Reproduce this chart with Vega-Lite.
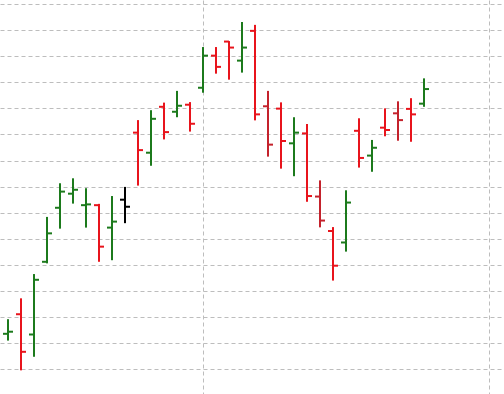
{
  "$schema": "https://vega.github.io/schema/vega-lite/v6.json",
  "width": 504,
  "height": 394,
  "padding": 0,
  "autosize": {"type": "fit", "contains": "padding"},
  "background": "white",
  "config": {"view": {"stroke": null}},
  "data": {
    "values": [
      {"i": 0, "o": 2.36, "h": 2.92, "l": 2.10, "c": 2.44, "d": "up"},
      {"i": 1, "o": 3.11, "h": 3.72, "l": 0.96, "c": 1.67, "d": "down"},
      {"i": 2, "o": 2.33, "h": 4.65, "l": 1.48, "c": 4.43, "d": "up"},
      {"i": 3, "o": 5.12, "h": 6.84, "l": 5.06, "c": 6.21, "d": "up"},
      {"i": 4, "o": 7.19, "h": 8.13, "l": 6.39, "c": 7.81, "d": "up"},
      {"i": 5, "o": 7.73, "h": 8.32, "l": 7.35, "c": 7.88, "d": "up"},
      {"i": 6, "o": 7.29, "h": 7.94, "l": 6.43, "c": 7.32, "d": "up"},
      {"i": 7, "o": 7.29, "h": 7.34, "l": 5.12, "c": 5.70, "d": "down"},
      {"i": 8, "o": 6.43, "h": 7.64, "l": 5.18, "c": 6.66, "d": "up"},
      {"i": 9, "o": 7.50, "h": 7.99, "l": 6.60, "c": 7.23, "d": "flat"},
      {"i": 10, "o": 10.07, "h": 10.55, "l": 8.04, "c": 9.40, "d": "down"},
      {"i": 11, "o": 9.30, "h": 10.93, "l": 8.80, "c": 10.60, "d": "up"},
      {"i": 12, "o": 11.06, "h": 11.22, "l": 9.81, "c": 10.09, "d": "down"},
      {"i": 13, "o": 10.87, "h": 11.67, "l": 10.66, "c": 11.10, "d": "up"},
      {"i": 14, "o": 11.14, "h": 11.24, "l": 10.11, "c": 10.41, "d": "down"},
      {"i": 15, "o": 11.79, "h": 13.35, "l": 11.60, "c": 13.02, "d": "up"},
      {"i": 16, "o": 13.02, "h": 13.35, "l": 12.33, "c": 12.59, "d": "down"},
      {"i": 17, "o": 13.56, "h": 13.58, "l": 12.10, "c": 13.33, "d": "down"},
      {"i": 18, "o": 12.83, "h": 14.31, "l": 12.37, "c": 13.33, "d": "up"},
      {"i": 19, "o": 13.97, "h": 14.20, "l": 10.54, "c": 10.77, "d": "down"},
      {"i": 20, "o": 11.08, "h": 11.67, "l": 9.15, "c": 9.61, "d": "down2"},
      {"i": 21, "o": 10.99, "h": 11.23, "l": 8.69, "c": 9.75, "d": "down"},
      {"i": 22, "o": 9.66, "h": 10.66, "l": 8.40, "c": 10.07, "d": "up"},
      {"i": 23, "o": 10.04, "h": 10.40, "l": 7.42, "c": 7.64, "d": "down"},
      {"i": 24, "o": 7.62, "h": 8.24, "l": 6.44, "c": 6.70, "d": "down2"},
      {"i": 25, "o": 6.30, "h": 6.45, "l": 4.40, "c": 4.97, "d": "down"},
      {"i": 26, "o": 5.86, "h": 7.86, "l": 5.51, "c": 7.39, "d": "up"},
      {"i": 27, "o": 10.14, "h": 10.62, "l": 8.73, "c": 9.10, "d": "down"},
      {"i": 28, "o": 9.19, "h": 9.79, "l": 8.57, "c": 9.49, "d": "up"},
      {"i": 29, "o": 10.26, "h": 11.00, "l": 9.93, "c": 10.17, "d": "down"},
      {"i": 30, "o": 10.81, "h": 11.27, "l": 9.76, "c": 10.55, "d": "down2"},
      {"i": 31, "o": 10.98, "h": 11.39, "l": 9.72, "c": 10.77, "d": "down"},
      {"i": 32, "o": 11.18, "h": 12.15, "l": 11.06, "c": 11.74, "d": "up"}
    ]
  },
  "encoding": {
    "x": {
      "field": "i",
      "type": "quantitative",
      "scale": {"domain": [-0.6154, 38.154], "nice": false, "zero": false},
      "axis": {
        "values": [15, 37],
        "tickCount": 40,
        "grid": true,
        "gridColor": "#bdbdbd",
        "gridDash": [4, 3],
        "gridWidth": 1,
        "labels": false,
        "ticks": false,
        "domain": false,
        "title": null
      }
    },
    "color": {
      "field": "d",
      "type": "nominal",
      "scale": {
        "domain": ["up", "down", "down2", "flat"],
        "range": ["#1c7a1c", "#e8141c", "#c4222c", "#000000"]
      },
      "legend": null
    }
  },
  "layer": [
    {
      "mark": {"type": "rule", "strokeWidth": 2, "opacity": 1},
      "encoding": {
        "y": {
          "field": "l",
          "type": "quantitative",
          "scale": {"domain": [0.053, 15.153], "nice": false, "zero": false},
          "axis": {
            "values": [1, 2, 3, 4, 5, 6, 7, 8, 9, 10, 11, 12, 13, 14, 15],
            "tickCount": 40,
            "grid": true,
            "gridColor": "#bdbdbd",
            "gridDash": [4, 3],
            "gridWidth": 1,
            "labels": false,
            "ticks": false,
            "domain": false,
            "title": null
          }
        },
        "y2": {"field": "h"}
      }
    },
    {
      "mark": {"type": "tick", "orient": "horizontal", "size": 5, "thickness": 2, "xOffset": -2.5, "opacity": 1},
      "encoding": {"y": {"field": "o", "type": "quantitative"}}
    },
    {
      "mark": {"type": "tick", "orient": "horizontal", "size": 5, "thickness": 2, "xOffset": 2.5, "opacity": 1},
      "encoding": {"y": {"field": "c", "type": "quantitative"}}
    }
  ]
}
